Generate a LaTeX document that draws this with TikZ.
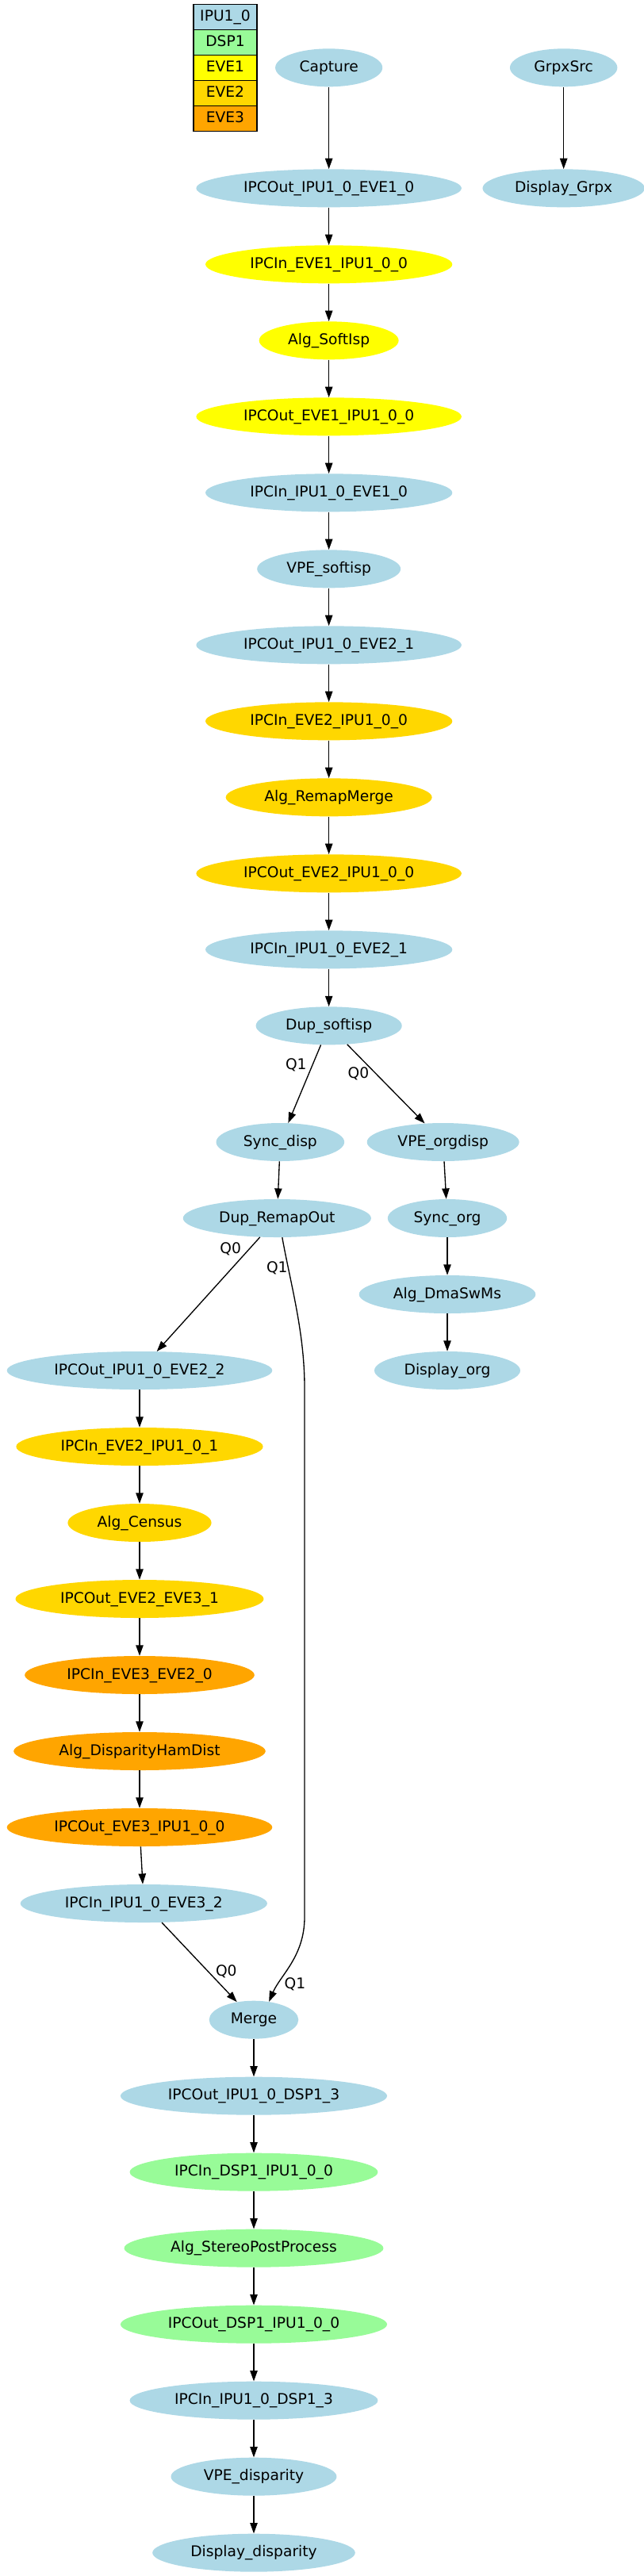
\documentclass[tikz,border=0pt]{standalone}
\usepackage{fontspec}
\setmainfont{DejaVu Sans}
\usepackage{tikz}
\usetikzlibrary{shapes.geometric,arrows.meta}
\definecolor{ipucol}{RGB}{173,216,230}
\definecolor{dspcol}{RGB}{152,251,152}
\definecolor{eveonecol}{RGB}{255,255,0}
\definecolor{evetwocol}{RGB}{255,215,0}
\definecolor{evethreecol}{RGB}{255,165,0}
\newcommand{\linew}{1pt}
\newcommand{\rowh}{24pt}

\begin{document}
\begin{tikzpicture}[x=1pt, y=-1pt, font=\fontsize{14}{16}\selectfont,
  elli/.style={ellipse, fill=#1, inner xsep=8pt, inner ysep=2pt, minimum height=36pt, text height=10.5pt, text depth=3pt},
  cell/.style={rectangle, draw, line width=\linew, fill=#1, minimum width=60pt, minimum height=\rowh, inner sep=0pt, text height=10.5pt, text depth=3pt},
  link/.style={line width=\linew, -{Triangle[length=10pt,width=7pt]}},
  lbl/.style={inner sep=0pt}]
\useasboundingbox (0,0) rectangle (609,2436);
%legend
\node[cell=ipucol] (l1) at (213,16) {IPU1\_0};
\node[cell=dspcol] (l2) at (213,40) {DSP1};
\node[cell=eveonecol] (l3) at (213,64) {EVE1};
\node[cell=evetwocol] (l4) at (213,88) {EVE2};
\node[cell=evethreecol] (l5) at (213,112) {EVE3};
%main chain
\node[elli=ipucol] (1) at (311,64) {Capture};
\node[elli=ipucol] (2) at (533,64) {GrpxSrc};
\node[elli=ipucol] (3) at (311,178) {IPCOut\_IPU1\_0\_EVE1\_0};
\node[elli=ipucol] (4) at (533,178) {Display\_Grpx};
\node[elli=eveonecol] (5) at (311,250) {IPCIn\_EVE1\_IPU1\_0\_0};
\node[elli=eveonecol] (6) at (311,322) {Alg\_SoftIsp};
\node[elli=eveonecol] (7) at (311,394) {IPCOut\_EVE1\_IPU1\_0\_0};
\node[elli=ipucol] (8) at (311,466) {IPCIn\_IPU1\_0\_EVE1\_0};
\node[elli=ipucol] (9) at (311,538) {VPE\_softisp};
\node[elli=ipucol] (10) at (311,610) {IPCOut\_IPU1\_0\_EVE2\_1};
\node[elli=evetwocol] (11) at (311,682) {IPCIn\_EVE2\_IPU1\_0\_0};
\node[elli=evetwocol] (12) at (311,754) {Alg\_RemapMerge};
\node[elli=evetwocol] (13) at (311,826) {IPCOut\_EVE2\_IPU1\_0\_0};
\node[elli=ipucol] (14) at (311,898) {IPCIn\_IPU1\_0\_EVE2\_1};
\node[elli=ipucol] (15) at (311,970) {Dup\_softisp};
%split
\node[elli=ipucol] (16) at (265,1080) {Sync\_disp};
\node[elli=ipucol] (17) at (419,1080) {VPE\_orgdisp};
\node[elli=ipucol] (18) at (262,1152) {Dup\_RemapOut};
\node[elli=ipucol] (19) at (423,1152) {Sync\_org};
\node[elli=ipucol] (20) at (423,1224) {Alg\_DmaSwMs};
\node[elli=ipucol] (21) at (423,1296) {Display\_org};
%disparity chain
\node[elli=ipucol] (22) at (132,1296) {IPCOut\_IPU1\_0\_EVE2\_2};
\node[elli=evetwocol] (23) at (132,1368) {IPCIn\_EVE2\_IPU1\_0\_1};
\node[elli=evetwocol] (24) at (132,1440) {Alg\_Census};
\node[elli=evetwocol] (25) at (132,1512) {IPCOut\_EVE2\_EVE3\_1};
\node[elli=evethreecol] (26) at (132,1584) {IPCIn\_EVE3\_EVE2\_0};
\node[elli=evethreecol] (27) at (132,1656) {Alg\_DisparityHamDist};
\node[elli=evethreecol] (28) at (132,1728) {IPCOut\_EVE3\_IPU1\_0\_0};
\node[elli=ipucol] (29) at (136,1800) {IPCIn\_IPU1\_0\_EVE3\_2};
%merge
\node[elli=ipucol] (30) at (240,1910) {Merge};
\node[elli=ipucol] (31) at (240,1982) {IPCOut\_IPU1\_0\_DSP1\_3};
\node[elli=dspcol] (32) at (240,2054) {IPCIn\_DSP1\_IPU1\_0\_0};
\node[elli=dspcol] (33) at (240,2126) {Alg\_StereoPostProcess};
\node[elli=dspcol] (34) at (240,2198) {IPCOut\_DSP1\_IPU1\_0\_0};
\node[elli=ipucol] (35) at (240,2270) {IPCIn\_IPU1\_0\_DSP1\_3};
\node[elli=ipucol] (36) at (240,2342) {VPE\_disparity};
\node[elli=ipucol] (37) at (240,2414) {Display\_disparity};
%edge labels
\node[lbl] (q1) at (280,1007) {Q1};
\node[lbl] (q2) at (339,1015) {Q0};
\node[lbl] (q3) at (218,1181) {Q0};
\node[lbl] (q4) at (262,1199) {Q1};
\node[lbl] (q5) at (214,1864) {Q0};
\node[lbl] (q6) at (279,1876) {Q1};
\coordinate (c1) at (288,1312);
\coordinate (c2) at (288,1813);
%edges
\draw[link] (1) -- (3);
\draw[link] (2) -- (4);
\draw[link] (3) -- (5);
\draw[link] (5) -- (6);
\draw[link] (6) -- (7);
\draw[link] (7) -- (8);
\draw[link] (8) -- (9);
\draw[link] (9) -- (10);
\draw[link] (10) -- (11);
\draw[link] (11) -- (12);
\draw[link] (12) -- (13);
\draw[link] (13) -- (14);
\draw[link] (14) -- (15);
\draw[link] (15) -- (16);
\draw[link] (15) -- (17);
\draw[link] (16) -- (18);
\draw[link] (17) -- (19);
\draw[link] (19) -- (20);
\draw[link] (20) -- (21);
\draw[link] (18) -- (22);
\draw[link] (18.-75) .. controls (275,1215) and (288,1260) .. (c1) -- (c2) .. controls (288,1850) and (265,1868) .. (30.50);
\draw[link] (22) -- (23);
\draw[link] (23) -- (24);
\draw[link] (24) -- (25);
\draw[link] (25) -- (26);
\draw[link] (26) -- (27);
\draw[link] (27) -- (28);
\draw[link] (28) -- (29);
\draw[link] (29) -- (30);
\draw[link] (30) -- (31);
\draw[link] (31) -- (32);
\draw[link] (32) -- (33);
\draw[link] (33) -- (34);
\draw[link] (34) -- (35);
\draw[link] (35) -- (36);
\draw[link] (36) -- (37);
\end{tikzpicture}
\end{document}
